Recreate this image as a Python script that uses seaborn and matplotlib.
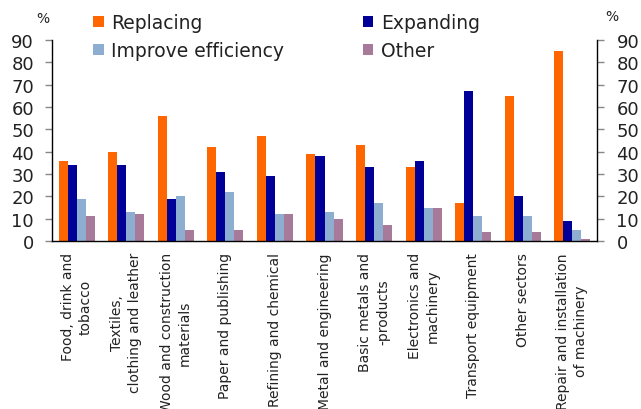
import matplotlib
matplotlib.use("Agg")
import matplotlib.pyplot as plt
import seaborn as sns
import pandas as pd
import numpy as np
from matplotlib.patches import Patch

categories = [
    "Food, drink and\ntobacco",
    "Textiles,\nclothing and leather",
    "Wood and construction\nmaterials",
    "Paper and publishing",
    "Refining and chemical",
    "Metal and engineering",
    "Basic metals and\n-products",
    "Electronics and\nmachinery",
    "Transport equipment",
    "Other sectors",
    "Repair and installation\nof machinery",
]
replacing = [36, 40, 56, 42, 47, 39, 43, 33, 17, 65, 85]
expanding = [34, 34, 19, 31, 29, 38, 33, 36, 67, 20, 9]
improve = [19, 13, 20, 22, 12, 13, 17, 15, 11, 11, 5]
other = [11, 12, 5, 5, 12, 10, 7, 15, 4, 4, 1]
series_names = ["Replacing", "Expanding", "Improve efficiency", "Other"]
colors = ["#FF6600", "#000099", "#8DADD1", "#A87A9A"]
yticks = list(range(0, 91, 10))

rows = []
for name, vals in zip(series_names, [replacing, expanding, improve, other]):
    for c, v in zip(categories, vals):
        rows.append({"cat": c, "series": name, "value": v})
df = pd.DataFrame(rows)

sns.set_style("white")
plt.rcParams["font.family"] = ["DejaVu Sans"]

fig = plt.figure(figsize=(6.41, 4.10), dpi=100)
ax = fig.add_axes([52 / 641, 1 - 242 / 410, (597 - 52) / 641, (242 - 41) / 410])

sns.barplot(data=df, x="cat", y="value", hue="series", palette=colors,
            hue_order=series_names, order=categories, width=0.73,
            saturation=1, linewidth=0, ax=ax, legend=False)

ax.set_ylim(0, 90)
ax.set_xlim(-0.5, len(categories) - 0.5)
ax.set_yticks(yticks)
ax.set_yticklabels([str(t) for t in yticks], fontsize=13)
ax.set_xlabel("")
ax.set_ylabel("")
ax.set_xticks(range(len(categories)))
ax.set_xticklabels(categories, rotation=90, fontsize=10, ha="center", va="top",
                   multialignment="center", linespacing=1.35, color="#222222")
ax.tick_params(axis="x", which="major", length=0, pad=8)
ax.set_xticks(np.arange(-0.5, len(categories), 1.0), minor=True)
ax.tick_params(axis="x", which="minor", length=4, color="#888888", width=1, direction="out")
ax.tick_params(axis="y", length=5, color="#888888", width=1, direction="out", pad=8, left=True,
               labelcolor="#222222")

for s in ["top", "right"]:
    ax.spines[s].set_visible(False)
for s in ["left", "bottom"]:
    ax.spines[s].set_color("black")
    ax.spines[s].set_linewidth(1)

ax2 = ax.twinx()
ax2.set_ylim(0, 90)
ax2.set_yticks(yticks)
ax2.set_yticklabels([str(t) for t in yticks], fontsize=13)
ax2.tick_params(axis="y", length=5, color="#888888", width=1, direction="out", pad=9, right=True,
                labelcolor="#222222")
for s in ["top", "left", "bottom"]:
    ax2.spines[s].set_visible(False)
ax2.spines["right"].set_color("black")
ax2.spines["right"].set_linewidth(1)

fig.text(43 / 641, 1 - 19 / 410, "%", fontsize=10, ha="center", va="center", color="#222222")
fig.text(612 / 641, 1 - 17 / 410, "%", fontsize=10, ha="center", va="center", color="#222222")

order = [0, 2, 1, 3]
handles = [Patch(facecolor=colors[i], edgecolor="none", label=series_names[i]) for i in order]
leg = fig.legend(handles=handles, loc="upper left", bbox_to_anchor=(84 / 641, 1 - 5 / 410),
                 ncol=2, frameon=False, fontsize=13.5, handlelength=0.55, handleheight=0.55,
                 handletextpad=0.4, columnspacing=4.2, labelspacing=0.45, borderpad=0)
for t in leg.get_texts():
    t.set_color("#222222")

fig.savefig("out.png", dpi=100)
